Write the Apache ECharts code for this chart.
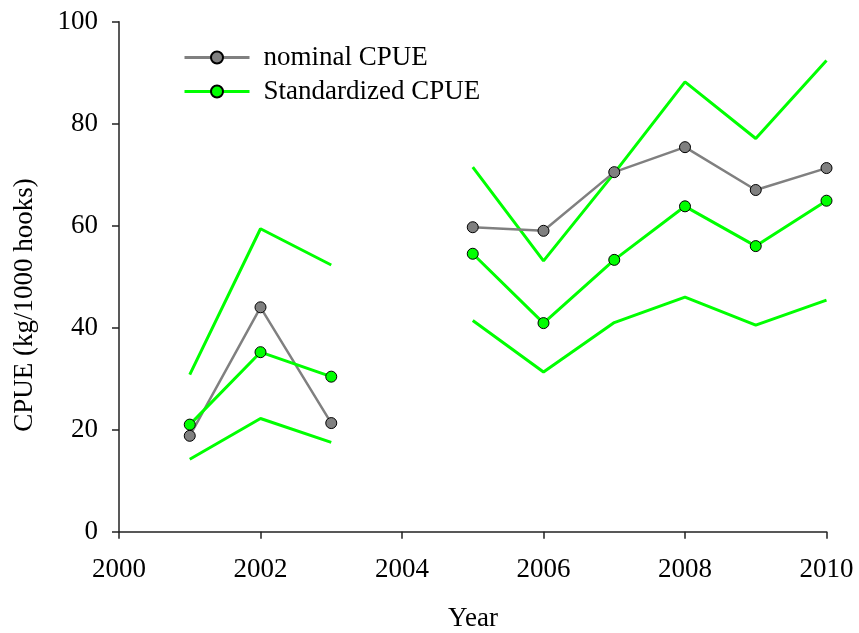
<!DOCTYPE html>
<html>
<head>
<meta charset="utf-8">
<script src="https://cdn.jsdelivr.net/npm/echarts@6/dist/echarts.min.js"></script>
<style>
html,body{margin:0;padding:0;background:#fff;}
#chart{width:859px;height:633px;}
</style>
</head>
<body>
<div id="chart"></div>
<script>
const years = [2001, 2002, 2003, 2004, 2005, 2006, 2007, 2008, 2009, 2010];
const nominalCPUE = [18.8, 44.0, 21.3, null, 59.7, 59.0, 70.5, 75.4, 67.0, 71.3];
const standardizedCPUE = [21.0, 35.2, 30.4, null, 54.5, 40.9, 53.3, 63.8, 56.0, 64.9];
const upperCI = [30.8, 59.4, 52.3, null, 71.5, 53.1, 70.3, 88.2, 77.1, 92.4];
const lowerCI = [14.2, 22.2, 17.5, null, 41.4, 31.3, 41.0, 46.0, 40.5, 45.4];
const xTicks = [2000, 2002, 2004, 2006, 2008, 2010];
const yTicks = [0, 20, 40, 60, 80, 100];
const seriesNames = ['nominal CPUE', 'Standardized CPUE'];
const xTitle = 'Year';
const yTitle = 'CPUE (kg/1000 hooks)';

const FONT = '"Liberation Serif", "Times New Roman", serif';
const pairs = vals => years.map((y, i) => [y, vals[i] === null ? '-' : vals[i]]);

const chart = echarts.init(document.getElementById('chart'), null, {renderer: 'canvas'});
const axisCommon = {
  axisLine: {show: true, lineStyle: {color: '#222', width: 1.5}},
  axisTick: {show: true, inside: false, length: 7, lineStyle: {color: '#222', width: 1.5}},
  splitLine: {show: false}
};
chart.setOption({
  animation: false,
  backgroundColor: '#fff',
  grid: {left: 119, right: 32.5, top: 21.7, bottom: 101.3, containLabel: false},
  legend: {
    data: seriesNames,
    orient: 'vertical',
    left: 178,
    top: 39,
    itemWidth: 65,
    itemHeight: 15,
    itemGap: 7,
    lineStyle: {width: 3},
    textStyle: {fontFamily: FONT, fontSize: 27, color: '#000', padding: [0, 0, 0, 9]}
  },
  xAxis: Object.assign({
    type: 'value',
    min: xTicks[0],
    max: xTicks[xTicks.length - 1],
    interval: 2,
    axisLabel: {fontFamily: FONT, fontSize: 27, color: '#000', margin: 25, formatter: v => String(v)}
  }, axisCommon),
  yAxis: Object.assign({
    type: 'value',
    min: yTicks[0],
    max: yTicks[yTicks.length - 1],
    interval: 20,
    axisLabel: {fontFamily: FONT, fontSize: 27, color: '#000', margin: 21, formatter: v => String(v)}
  }, axisCommon),
  graphic: [
    {type: 'text', x: 473, y: 619, style: {text: xTitle, font: '27px ' + FONT, fill: '#000', align: 'center', verticalAlign: 'middle'}},
    {type: 'text', x: 25, y: 305, rotation: Math.PI / 2, style: {text: yTitle, font: '27px ' + FONT, fill: '#000', align: 'center', verticalAlign: 'middle'}}
  ],
  series: [
    {
      name: 'upper', type: 'line', data: pairs(upperCI), symbol: 'none', connectNulls: false,
      lineStyle: {color: '#00ff00', width: 3}, z: 2, silent: true
    },
    {
      name: 'lower', type: 'line', data: pairs(lowerCI), symbol: 'none', connectNulls: false,
      lineStyle: {color: '#00ff00', width: 3}, z: 2, silent: true
    },
    {
      name: seriesNames[0], type: 'line', data: pairs(nominalCPUE), connectNulls: false,
      symbol: 'circle', symbolSize: 11,
      lineStyle: {color: '#808080', width: 2.5},
      itemStyle: {color: '#808080', borderColor: '#000', borderWidth: 1},
      z: 3
    },
    {
      name: seriesNames[1], type: 'line', data: pairs(standardizedCPUE), connectNulls: false,
      symbol: 'circle', symbolSize: 11,
      lineStyle: {color: '#00ff00', width: 3},
      itemStyle: {color: '#00ff00', borderColor: '#000', borderWidth: 1},
      z: 4
    }
  ]
});
</script>
</body>
</html>
